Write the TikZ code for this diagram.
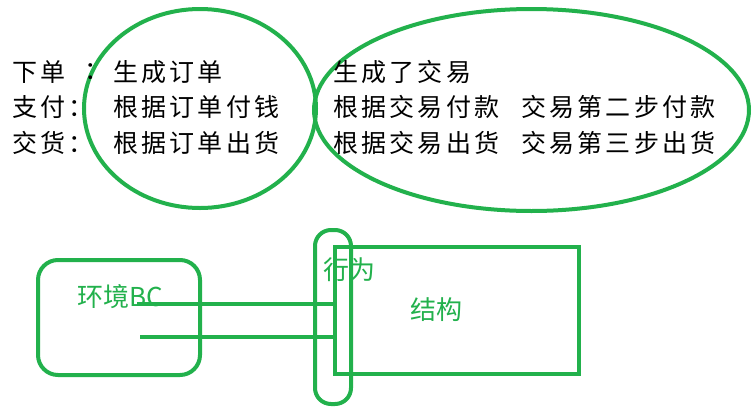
\documentclass[tikz,border=0pt]{standalone}
\usepackage{fontspec}
\usetikzlibrary{shapes.geometric}
\newfontfamily\cjk[LetterSpace=13]{Noto Sans CJK SC}
\newfontfamily\cjkg{Noto Sans CJK SC}
\definecolor{pgreen}{RGB}{34,177,76}
\begin{document}
\begin{tikzpicture}[x=1pt,y=-1pt,
  toptext/.style={anchor=west, inner sep=0pt, font=\cjk\fontsize{25}{25}\selectfont, text=black},
  gtext/.style={inner sep=0pt, font=\cjkg\fontsize{26}{26}\selectfont, text=pgreen},
  gline/.style={draw=pgreen, line width=4pt},
  gshape/.style={draw=pgreen, line width=4pt, inner sep=0pt},
]
\useasboundingbox[fill=white] (0,0) rectangle (756,418);

% ellipses
\node[gshape, ellipse, minimum width=232pt, minimum height=199pt] (e1) at (200,108.5) {};
\node[gshape, ellipse, minimum width=435pt, minimum height=202pt] (e2) at (531.5,110) {};

% top text
\node[toptext] (r1a) at (12,72) {下单};
\node[toptext] (r1b) at (84,72) {：};
\node[toptext] (r1c) at (113,72) {生成订单};
\node[toptext] (r1d) at (333,72) {生成了交易};

\node[toptext] (r2a) at (12,107) {支付：};
\node[toptext] (r2b) at (113,107) {根据订单付钱};
\node[toptext] (r2c) at (333,107) {根据交易付款};
\node[toptext] (r2d) at (521,107) {交易第二步付款};

\node[toptext] (r3a) at (12,143) {交货：};
\node[toptext] (r3b) at (113,143) {根据订单出货};
\node[toptext] (r3c) at (333,143) {根据交易出货};
\node[toptext] (r3d) at (521,143) {交易第三步出货};

% bottom shapes
\node[gshape, rounded corners=20pt, minimum width=162pt, minimum height=115pt] (env) at (119,317.5) {};
\node[gshape, minimum width=244pt, minimum height=127pt] (struct) at (457,310.5) {};
\node[gshape, rounded corners=16pt, minimum width=36pt, minimum height=174pt] (beh) at (333,317) {};

% labels
\node[gtext] (envlabel) at (120,297) {环境BC};
\node[gtext] (behlabel) at (349,270) {行为};
\node[gtext] (structlabel) at (436,310) {结构};

% connectors
\coordinate (l1s) at (137,304);
\coordinate (l2s) at (140,337);
\draw[gline] (l1s) -- (l1s -| struct.west);
\draw[gline] (l2s) -- (l2s -| struct.west);
\end{tikzpicture}
\end{document}
